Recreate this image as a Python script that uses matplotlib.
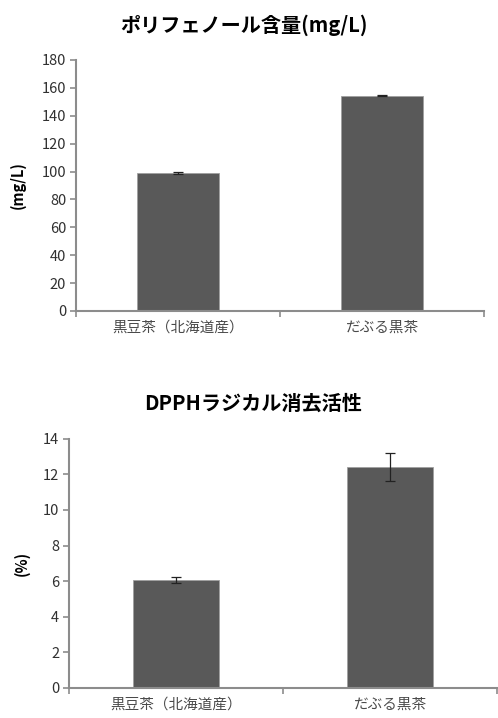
import matplotlib
matplotlib.use("Agg")
import matplotlib.pyplot as plt

plt.rcParams['font.family'] = ['Noto Sans CJK JP', 'DejaVu Sans']

categories = ['黒豆茶（北海道産）', 'だぶる黒茶']

# polyphenol content (mg/L)
poly_values = [99.0, 154.3]
poly_err = [0.6, 0.3]

# DPPH radical scavenging activity (%)
dpph_values = [6.06, 12.42]
dpph_err = [0.18, 0.78]

bar_color = '#595959'
spine_color = '#8c8c8c'


def draw_panel(ax, values, errs, title, title_xy, ylabel, ylabel_x, ymax, ystep):
    x = range(len(values))
    ax.bar(x, values, width=0.4, color=bar_color, edgecolor='#a0a0a0', linewidth=0.6, zorder=2)
    ax.errorbar(x, values, yerr=errs, fmt='none', ecolor='#222222', elinewidth=0.9,
                capsize=3.5, capthick=0.9, zorder=3)
    ax.set_xlim(-0.5, len(values) - 0.5)
    ax.set_ylim(0, ymax)
    ax.set_yticks(range(0, ymax + 1, ystep))
    ax.set_xticks(list(x))
    ax.set_xticklabels(categories, fontsize=10.5, color='#4a4a4a')
    # category boundary ticks like Excel
    ax.set_xticks([-0.5, 0.5, 1.5], minor=True)
    ax.tick_params(axis='x', which='major', length=0, pad=7)
    ax.tick_params(axis='x', which='minor', length=4, color=spine_color, width=1.2)
    ax.tick_params(axis='y', length=4, color=spine_color, width=1.2, labelsize=10.5,
                   labelcolor='#303030', pad=3)
    for s in ['top', 'right']:
        ax.spines[s].set_visible(False)
    for s in ['left', 'bottom']:
        ax.spines[s].set_color(spine_color)
        ax.spines[s].set_linewidth(1.5)
    fig.text(title_xy[0], title_xy[1], title, fontsize=14.5, fontweight='bold',
             ha='center', va='center')
    ax.set_ylabel(ylabel, fontsize=10.5, fontweight='bold')
    ax.yaxis.set_label_coords(ylabel_x, 0.5)


fig = plt.figure(figsize=(4.98, 7.18), dpi=100)
ax1 = fig.add_axes([0.1526, 0.5669, 0.8194, 0.3496])
ax2 = fig.add_axes([0.1386, 0.0418, 0.8594, 0.3472])

draw_panel(ax1, poly_values, poly_err, 'ポリフェノール含量(mg/L)', (0.49, 0.965),
           '(mg/L)', -0.122, 180, 20)
draw_panel(ax2, dpph_values, dpph_err, 'DPPHラジカル消去活性', (0.508, 0.439),
           '(%)', -0.092, 14, 2)

fig.savefig('out.png', dpi=100)
